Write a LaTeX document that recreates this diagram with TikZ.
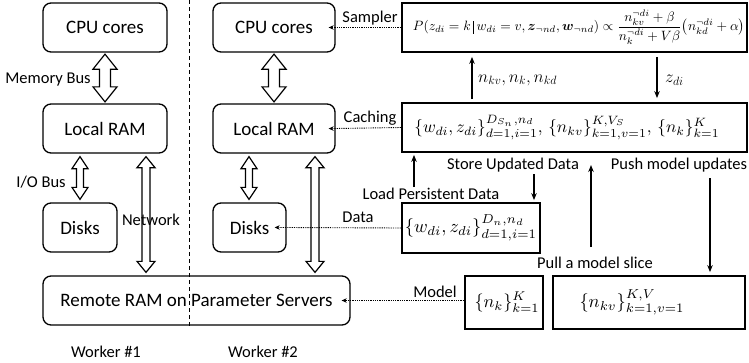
\documentclass[tikz,border=0pt]{standalone}
\usepackage{amsmath,amssymb}
\usepackage{graphicx}
\usepackage{fontspec}
\setmainfont{Carlito}
\usetikzlibrary{arrows.meta,calc}
\newcommand\hollowdbl[5]{%
  \draw[hollow] let \p1=#1, \p2=#2 in
    (\x1,\y1) -- (\x1+#4,\y1-#5) -- (\x1+#3,\y1-#5) -- (\x1+#3,\y2+#5)
    -- (\x1+#4,\y2+#5) -- (\x1,\y2) -- (\x1-#4,\y2+#5) -- (\x1-#3,\y2+#5)
    -- (\x1-#3,\y1-#5) -- (\x1-#4,\y1-#5) -- cycle;}
\newcommand\thickbar{\,\rule[-0.22em]{0.11em}{0.95em}\,}
\begin{document}
\begin{tikzpicture}[x=1pt,y=-1pt,
  rbox/.style={draw, line width=1.3pt, rounded corners=8pt, font=\fontsize{19}{22}\selectfont, inner sep=0pt},
  fbox/.style={draw, line width=1.8pt, inner sep=0pt},
  lab/.style={font=\fontsize{16.5}{19}\selectfont, inner sep=0pt},
  mlab/.style={font=\fontsize{18}{20}\selectfont, inner sep=0pt},
  dots/.style={line width=0.9pt, dash pattern=on 0.9pt off 0.9pt, -{Stealth[length=5pt,width=4.5pt]}},
  solidarr/.style={line width=1.1pt, -{Stealth[length=7pt,width=5.5pt]}},
  hollow/.style={draw, line width=1.2pt, fill=white, line join=miter},
  sep/.style={line width=0.8pt, dash pattern=on 4pt off 3pt}
]
\useasboundingbox (0,0) rectangle (749,362);

% separator
\draw[sep] (189,0) -- (189,328);

% worker boxes
\node[rbox, minimum width=124pt, minimum height=49pt] (cpu1) at (105,27.5) {CPU cores};
\node[rbox, minimum width=124pt, minimum height=49pt] (ram1) at (105,128.5) {Local RAM};
\node[rbox, minimum width=74pt, minimum height=49pt] (disk1) at (80,227.5) {Disks};
\node[rbox, minimum width=122pt, minimum height=49pt] (cpu2) at (274,27.5) {CPU cores};
\node[rbox, minimum width=122pt, minimum height=49pt] (ram2) at (274,128.5) {Local RAM};
\node[rbox, minimum width=73pt, minimum height=49pt] (disk2) at (249.5,227.5) {Disks};
\node[rbox, minimum width=307pt, minimum height=49pt] (remote) at (196.5,300.5) {Remote RAM on Parameter Servers};

% formula boxes
\node[fbox, minimum width=345pt, minimum height=49pt] (sampler) at (574.5,27.5)
  {\hspace*{9pt}\resizebox{332pt}{!}{$P(z_{di}=k\thickbar w_{di}=v,\boldsymbol{z}_{\neg nd},\boldsymbol{w}_{\neg nd})\propto\dfrac{n_{kv}^{\neg di}+\beta}{n_k^{\neg di}+V\beta}\bigl(n_{kd}^{\neg di}+\alpha\bigr)$}};
\node[fbox, minimum width=345pt, minimum height=49pt] (caching) at (574.5,127.5)
  {\resizebox{305pt}{!}{$\{w_{di},z_{di}\}_{d=1,i=1}^{D_{S_n},n_d},\,\{n_{kv}\}_{k=1,v=1}^{K,V_S},\,\{n_k\}_{k=1}^{K}$}\hspace*{15pt}};
\node[fbox, minimum width=138pt, minimum height=50pt] (data) at (471,228)
  {\resizebox{132pt}{!}{$\{w_{di},z_{di}\}_{d=1,i=1}^{D_n,n_d}$}};
\node[fbox, minimum width=78pt, minimum height=53pt] (nk) at (504,302.5)
  {\hspace*{6pt}\resizebox{65pt}{!}{$\{n_k\}_{k=1}^{K}$}};
\node[fbox, minimum width=192pt, minimum height=53pt] (nkv) at (649,302.5)
  {\resizebox{105pt}{!}{$\{n_{kv}\}_{k=1,v=1}^{K,V}$}\hspace*{34pt}};

% hollow bus arrows
\hollowdbl{($(cpu1.south)+(0,1.5)$)}{($(ram1.north)+(0,-1.5)$)}{5.5pt}{12pt}{15pt}
\hollowdbl{($(cpu2.south)+(0,1.5)$)}{($(ram2.north)+(0,-1.5)$)}{5.5pt}{12pt}{15pt}
\hollowdbl{($(ram1.south)+(-25,3)$)}{($(disk1.north)+(0,-3)$)}{3.5pt}{8pt}{12pt}
\hollowdbl{($(ram1.south)+(41,3)$)}{($(remote.north)+(0,-3)$)}{4pt}{9pt}{11pt}
\hollowdbl{($(ram2.south)+(-25,3)$)}{($(disk2.north)+(0,-3)$)}{3.5pt}{8pt}{12pt}
\hollowdbl{($(ram2.south)+(41,3)$)}{($(remote.north)+(0,-3)$)}{4pt}{9pt}{11pt}

% bus labels
\node[lab] (memlab) at (48,80) {Memory Bus};
\node[lab] (iolab) at (41,182) {I/O Bus};
\node[lab] (netlab) at (151,220) {Network};

% worker labels
\node[lab] (w1) at (106,352) {Worker \#1};
\node[lab] (w2) at (263,352) {Worker \#2};

% dotted connectors
\draw[dots, shorten >=-7pt] (sampler.west) -- (cpu2.east);
\draw[dots, shorten >=-7pt] (caching.west) -- (ram2.east);
\draw[dots, shorten >=-12pt] (data.west) -- (disk2.east);
\draw[dots, shorten >=-9pt] (nk.west |- remote.east) -- (remote.east);
\node[lab] (samplab) at (370,18) {Sampler};
\node[lab] (cachlab) at (370,118) {Caching};
\node[lab] (datalab) at (358,217) {Data};
\node[lab] (modellab) at (435,292) {Model};

% solid connectors
\draw[solidarr] ($(472,0 |- caching.north)+(0,-3)$) -- ($(472,0 |- sampler.south)+(0,4)$);
\draw[solidarr] ($(657,0 |- sampler.south)+(0,4)$) -- ($(657,0 |- caching.north)+(0,-4)$);
\node[mlab, anchor=west] (nlab) at (478,80) {$n_{kv},n_k,n_{kd}$};
\node[mlab, anchor=west] (zlab) at (665,80) {$z_{di}$};

\coordinate (loadstart) at (414,187);
\coordinate (storestart) at (534,174);
\coordinate (pullstart) at (591,247);
\coordinate (pullend) at (591,165);
\coordinate (pushstart) at (710,178);
\draw[solidarr] (loadstart) -- ($(loadstart |- caching.south)+(0,2)$);
\draw[solidarr] (storestart) -- ($(storestart |- data.north)+(0,-2)$);
\draw[solidarr] (pullstart) -- (pullend);
\draw[solidarr] (pushstart) -- ($(pushstart |- nkv.north)+(0,-3)$);

\node[lab] (loadlab) at (431,194) {Load Persistent Data};
\node[lab] (storelab) at (513,165) {Store Updated Data};
\node[lab] (pushlab) at (679,165) {Push model updates};
\node[lab] (pulllab) at (595,263) {Pull a model slice};
\end{tikzpicture}
\end{document}
